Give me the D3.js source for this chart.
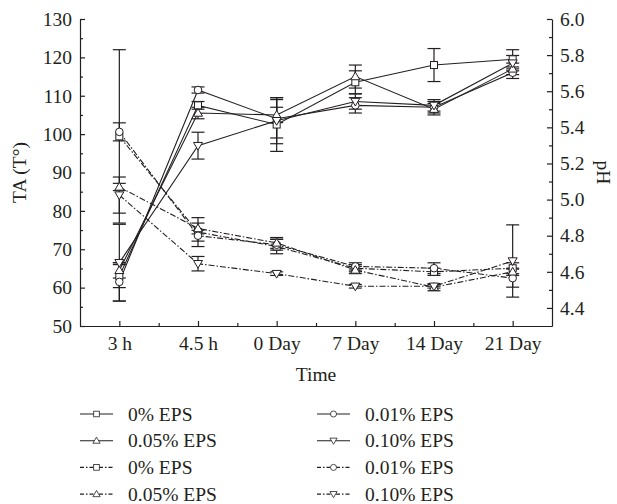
<!DOCTYPE html>
<html lang="en">
<head>
  <meta charset="UTF-8">
  <title>TA and pH over time</title>
  <script src="https://d3js.org/d3.v7.min.js"></script>
  <style>
    body { margin: 0; background: #fff; }
    svg text { font-family: "Liberation Serif", "DejaVu Serif", serif; fill: #231f20; }
  </style>
</head>
<body>
  <div id="chart"></div>
  <script>
    // Data
    const times = ["3 h", "4.5 h", "0 Day", "7 Day", "14 Day", "21 Day"];
    const groups = ["0% EPS", "0.01% EPS", "0.05% EPS", "0.10% EPS"];

    // titratable acidity (left axis, solid lines)
    const ta0 = [63, 107.5, 102.5, 113.5, 118, 119.5];
    const ta001 = [61.5, 111.5, 104, 107.5, 107, 116];
    const ta005 = [64.5, 105.5, 105, 115, 106.5, 117];
    const ta010 = [66.5, 97, 103.5, 108.5, 107.5, 118.5];
    const taErr0 = [3, 1, 7, 3, 4.3, 2.5];
    const taErr001 = [5, 0.8, 5, 2, 1.5, 1.5];
    const taErr005 = [2, 1.5, 2, 3, 1.5, 1.5];
    const taErr010 = [10, 3.5, 6, 2, 1.5, 2];

    // pH (right axis, dash-dot lines)
    const ph0 = [5.35, 4.82, 4.74, 4.62, 4.6, 4.62];
    const ph001 = [5.375, 4.8, 4.75, 4.63, 4.62, 4.565];
    const ph005 = [5.07, 4.84, 4.76, 4.61, 4.515, 4.6];
    const ph010 = [5.025, 4.645, 4.59, 4.52, 4.52, 4.66];
    const phErr0 = [0.48, 0.08, 0.04, 0.02, 0.02, 0.03];
    const phErr001 = [0.05, 0.03, 0.03, 0.02, 0.03, 0.05];
    const phErr005 = [0.02, 0.03, 0.03, 0.02, 0.02, 0.02];
    const phErr010 = [0.1, 0.04, 0.01, 0.01, 0.01, 0.2];

    const taTicks = [50, 60, 70, 80, 90, 100, 110, 120, 130];
    const phTicks = [4.4, 4.6, 4.8, 5.0, 5.2, 5.4, 5.6, 5.8, 6.0];

    const width = 617, height = 504;
    const margin = { top: 19, right: 65, bottom: 178, left: 80 };
    const ink = "#231f20";
    const fs = "19.5px";

    const svg = d3.select("#chart").append("svg")
      .attr("width", width).attr("height", height);

    const x = d3.scaleLinear().domain([-0.5, times.length - 0.5])
      .range([margin.left, width - margin.right]);
    const yTA = d3.scaleLinear().domain([50, 130])
      .range([height - margin.bottom, margin.top]);
    const yPH = d3.scaleLinear().domain([4.3, 6.0])
      .range([height - margin.bottom, margin.top]);

    const shapes = ["square", "circle", "triangle", "triangleDown"];
    function marker(sel, shape) {
      if (shape === "square") {
        sel.append("rect").attr("x", -3.5).attr("y", -3.5).attr("width", 7).attr("height", 7);
      } else if (shape === "circle") {
        sel.append("circle").attr("r", 3.8);
      } else if (shape === "triangle") {
        sel.append("path").attr("d", "M0,-4.5L4.5,3.2L-4.5,3.2Z");
      } else {
        sel.append("path").attr("d", "M0,4.5L4.5,-3.2L-4.5,-3.2Z");
      }
      sel.selectAll("*").attr("fill", "#fff").attr("stroke", ink).attr("stroke-width", 1);
    }

    const dashDot = "6,2,1.5,2";
    const series = [
      { vals: ta0, err: taErr0, y: yTA, shape: 0, dash: null },
      { vals: ta001, err: taErr001, y: yTA, shape: 1, dash: null },
      { vals: ta005, err: taErr005, y: yTA, shape: 2, dash: null },
      { vals: ta010, err: taErr010, y: yTA, shape: 3, dash: null },
      { vals: ph0, err: phErr0, y: yPH, shape: 0, dash: dashDot },
      { vals: ph001, err: phErr001, y: yPH, shape: 1, dash: dashDot },
      { vals: ph005, err: phErr005, y: yPH, shape: 2, dash: dashDot },
      { vals: ph010, err: phErr010, y: yPH, shape: 3, dash: dashDot }
    ];

    // axes
    const bottom = height - margin.bottom;
    const left = margin.left, right = width - margin.right;

    svg.append("g").attr("transform", `translate(0,${bottom})`)
      .call(d3.axisBottom(x).tickValues(d3.range(times.length))
        .tickFormat(i => times[i]).tickSizeInner(-5).tickSizeOuter(0).tickPadding(10));
    svg.append("g").attr("transform", `translate(0,${bottom})`)
      .call(d3.axisBottom(x).tickValues(d3.range(times.length - 1).map(i => i + 0.5))
        .tickFormat("").tickSizeInner(-3).tickSizeOuter(0))
      .select(".domain").remove();

    svg.append("g").attr("transform", `translate(${left},0)`)
      .call(d3.axisLeft(yTA).tickValues(taTicks).tickSizeInner(-5).tickSizeOuter(0).tickPadding(8));
    svg.append("g").attr("transform", `translate(${left},0)`)
      .call(d3.axisLeft(yTA).tickValues(d3.range(55, 130, 10)).tickFormat("").tickSizeInner(-3).tickSizeOuter(0))
      .select(".domain").remove();

    svg.append("g").attr("transform", `translate(${right},0)`)
      .call(d3.axisRight(yPH).tickValues(phTicks).tickFormat(d3.format(".1f"))
        .tickSizeInner(-5).tickSizeOuter(0).tickPadding(8));
    svg.append("g").attr("transform", `translate(${right},0)`)
      .call(d3.axisRight(yPH).tickValues([4.5, 4.7, 4.9, 5.1, 5.3, 5.5, 5.7, 5.9])
        .tickFormat("").tickSizeInner(-3).tickSizeOuter(0))
      .select(".domain").remove();

    svg.selectAll(".domain, .tick line").attr("stroke", ink).attr("stroke-width", 1.2);
    svg.selectAll(".tick text").style("font-size", fs).attr("fill", ink);

    // axis titles
    svg.append("text").attr("transform", `translate(26,${(margin.top + bottom) / 2}) rotate(-90)`)
      .attr("text-anchor", "middle").style("font-size", fs).text("TA (T°)");
    svg.append("text").attr("transform", `translate(597,${(margin.top + bottom) / 2}) rotate(90)`)
      .attr("text-anchor", "middle").style("font-size", fs).text("pH");
    svg.append("text").attr("x", (left + right) / 2).attr("y", 381)
      .attr("text-anchor", "middle").style("font-size", fs).text("Time");

    // error bars
    const plot = svg.append("g");
    series.forEach(s => {
      const g = plot.append("g");
      s.vals.forEach((v, i) => {
        const cx = x(i), y1 = s.y(v + s.err[i]), y2 = s.y(v - s.err[i]);
        g.append("line").attr("x1", cx).attr("x2", cx).attr("y1", y1).attr("y2", y2)
          .attr("stroke", ink).attr("stroke-width", 1.2);
        [y1, y2].forEach(yy => g.append("line").attr("x1", cx - 6.5).attr("x2", cx + 6.5)
          .attr("y1", yy).attr("y2", yy).attr("stroke", ink).attr("stroke-width", 1.2));
      });
    });

    // lines
    series.forEach(s => {
      const line = d3.line().x((d, i) => x(i)).y(d => s.y(d));
      plot.append("path").datum(s.vals).attr("d", line)
        .attr("fill", "none").attr("stroke", ink).attr("stroke-width", 1.1)
        .attr("stroke-dasharray", s.dash);
    });

    // markers
    series.forEach(s => {
      s.vals.forEach((v, i) => {
        const g = plot.append("g").attr("transform", `translate(${x(i)},${s.y(v)})`);
        marker(g, shapes[s.shape]);
      });
    });

    // legend
    const legendRows = [
      { label: groups[0], shape: 0, dash: null }, { label: groups[1], shape: 1, dash: null },
      { label: groups[2], shape: 2, dash: null }, { label: groups[3], shape: 3, dash: null },
      { label: groups[0], shape: 0, dash: dashDot }, { label: groups[1], shape: 1, dash: dashDot },
      { label: groups[2], shape: 2, dash: dashDot }, { label: groups[3], shape: 3, dash: dashDot }
    ];
    legendRows.forEach((r, k) => {
      const col = k % 2, row = Math.floor(k / 2);
      const lx = col === 0 ? 80 : 317, ly = 414 + row * 26.7;
      const g = svg.append("g").attr("transform", `translate(${lx},${ly})`);
      g.append("line").attr("x1", 0).attr("x2", 33).attr("y1", 0).attr("y2", 0)
        .attr("stroke", ink).attr("stroke-width", 1.1)
        .attr("stroke-dasharray", r.dash ? "4,2,1.5,2" : null);
      const m = g.append("g").attr("transform", "translate(16.5,0) scale(0.8)");
      marker(m, shapes[r.shape]);
      g.append("text").attr("x", 48).attr("y", 6.5).style("font-size", fs).text(r.label);
    });
  </script>
</body>
</html>
